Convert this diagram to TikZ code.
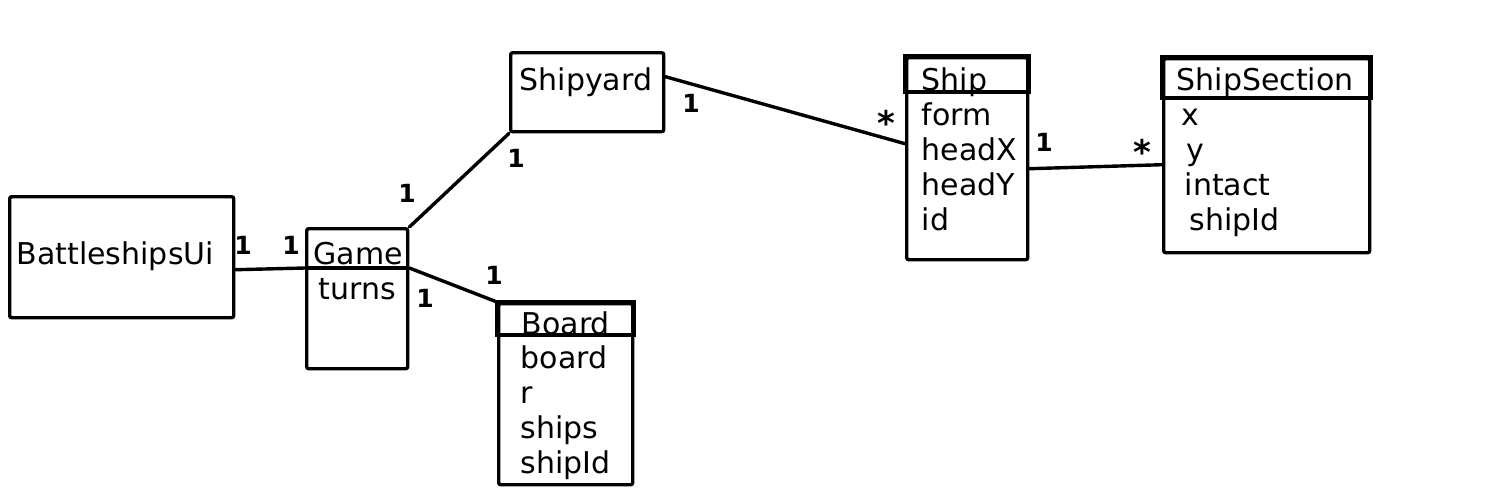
\documentclass[tikz,border=0pt]{standalone}
\usepackage{fontspec}
\setmainfont{DejaVu Sans}
\usetikzlibrary{calc}
\def\divsep{41}

\begin{document}
\begin{tikzpicture}[
    x=0.5pt, y=-0.5pt,
    line width=1.7pt,
    classbox/.style={
      draw, rectangle, rounded corners=1pt, anchor=north west,
      inner sep=0pt
    },
    attr/.style={
      anchor=base west, inner sep=0pt, font=\fontsize{15pt}{17.5pt}\selectfont
    },
    mult/.style={
      inner sep=0pt, font=\fontsize{12.5pt}{14pt}\selectfont\bfseries
    },
    many/.style={
      inner sep=0pt, yshift=-3pt, font=\fontsize{17pt}{18pt}\selectfont\bfseries
    },
    link/.style={
      line cap=round
    }
  ]
    \useasboundingbox (0,0) rectangle (1500,500);

    % boxes
    \node[classbox, minimum width=112pt, minimum height=60.5pt] (ui) at (8,195) {};
    \node[classbox, minimum width=50.5pt, minimum height=70pt] (game) at (305,227) {};
    \node[classbox, minimum width=76.5pt, minimum height=39.5pt] (shipyard) at (509,51) {};
    \node[classbox, minimum width=67pt, minimum height=90.5pt] (board) at (497,302) {};
    \node[classbox, minimum width=60.5pt, minimum height=101pt] (ship) at (905,56) {};
    \node[classbox, minimum width=103pt, minimum height=97pt] (section) at (1162,57) {};

    % header dividers
    \coordinate (gameL) at ($(game.north west)+(0,\divsep)$);
    \coordinate (gameR) at ($(game.north east)+(0,\divsep)$);
    \coordinate (boardL) at ($(board.north west)+(0,33)$);
    \coordinate (boardR) at ($(board.north east)+(0,33)$);
    \coordinate (shipL) at ($(ship.north west)+(0,36)$);
    \coordinate (shipR) at ($(ship.north east)+(0,36)$);
    \coordinate (sectionL) at ($(section.north west)+(0,\divsep)$);
    \coordinate (sectionR) at ($(section.north east)+(0,\divsep)$);
    \draw (gameL) -- (gameR);
    \draw[line width=2pt] (board.north west) rectangle (boardR);
    \draw[line width=2pt] (ship.north west) rectangle (shipR);
    \draw[line width=2pt] (section.north west) rectangle (sectionR);

    % names and attributes
    \node[attr] (uiname) at (15,264) {BattleshipsUi};

    \node[attr] (gamename) at (312,264) {Game};
    \node[attr] (turns) at (317,299) {turns};

    \node[attr] (shipyardname) at (518,90) {Shipyard};

    \node[attr] (boardname) at (520,334) {Board};
    \node[attr] (boardattr) at (519,368) {board};
    \node[attr] (rattr) at (519,403) {r};
    \node[attr] (shipsattr) at (519,438) {ships};
    \node[attr] (boardid) at (519,473) {shipId};

    \node[attr] (shipname) at (920,90) {Ship};
    \node[attr] (form) at (920,125) {form};
    \node[attr] (headx) at (920,160) {headX};
    \node[attr] (heady) at (920,195) {headY};
    \node[attr] (id) at (920,230) {id};

    \node[attr] (sectionname) at (1175,90) {ShipSection};
    \node[attr] (xattr) at (1180,125) {x};
    \node[attr] (yattr) at (1185,160) {y};
    \node[attr] (intact) at (1183,195) {intact};
    \node[attr] (sectionid) at (1188,230) {shipId};

    % associations
    \draw[link] ([yshift=-6.25pt]ui.east) -- (gameL);
    \draw[link] (game.north east) -- (shipyard.south west);
    \draw[link] (gameR) -- (board.north west);
    \draw[link] ([yshift=7.75pt]shipyard.east) -- ([yshift=7.5pt]ship.west);
    \draw[link] ([yshift=-5pt]ship.east) -- ([yshift=-4.5pt]section.west);

    % multiplicities
    \node[mult] (m1) at (243,245) {1};
    \node[mult] (m2) at (291,245) {1};
    \node[mult] (m3) at (407,193) {1};
    \node[mult] (m4) at (516,158) {1};
    \node[mult] (m5) at (494,275) {1};
    \node[mult] (m6) at (425,298) {1};
    \node[mult] (m7) at (691,103) {1};
    \node[many] (m8) at (886,117) {*};
    \node[mult] (m9) at (1044,142) {1};
    \node[many] (m10) at (1142,146) {*};
  \end{tikzpicture}
\end{document}
